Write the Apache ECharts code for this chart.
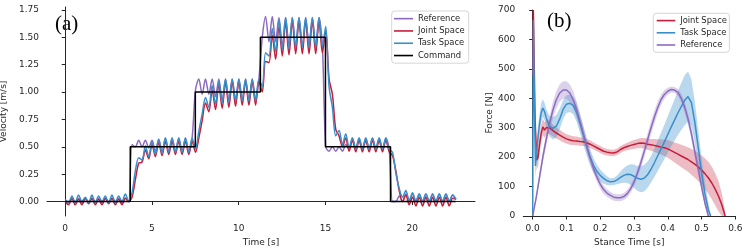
<!DOCTYPE html>
<html><head><meta charset="utf-8">
<script src="https://cdn.jsdelivr.net/npm/echarts@6/dist/echarts.min.js"></script>
<style>html,body{margin:0;padding:0;background:#fff}#c{width:748px;height:251px}</style>
</head><body><div id="c"></div>
<script>
// ---------- (a) velocity tracking ----------
const timeS = [0,0.193,0.385,0.578,0.77,0.963,1.155,1.348,1.54,1.733,1.925,2.118,2.31,2.503,2.695,2.888,3.08,3.273,3.465,3.658,
3.85,4.043,4.235,4.428,4.62,4.813,5.005,5.198,5.39,5.583,5.775,5.968,6.16,6.353,6.545,6.738,6.93,7.123,7.315,
7.508,7.7,7.893,8.085,8.278,8.47,8.663,8.855,9.048,9.24,9.433,9.625,9.818,10.01,10.203,10.395,10.588,10.78,10.973,11.165,
11.358,11.55,11.743,11.935,12.128,12.32,12.513,12.705,12.898,13.09,13.283,13.475,13.668,13.86,14.053,14.245,14.438,14.63,14.823,
15.015,15.208,15.4,15.593,15.785,15.978,16.17,16.363,16.555,16.748,16.94,17.133,17.325,17.518,17.71,17.903,18.095,18.288,18.48,18.673,
18.865,19.058,19.25,19.443,19.635,19.828,20.02,20.213,20.405,20.598,20.79,20.983,21.175,21.368,21.56,21.753,21.945,22.138,22.33,22.523];

const referenceVel = [0.0,-0.01,0.03,-0.01,0.03,-0.01,0.03,-0.01,0.03,-0.01,0.03,-0.01,0.03,-0.01,0.03,-0.01,0.03,-0.01,0.03,0.0,
0.52,0.50,0.56,0.50,0.56,0.49,0.56,0.46,0.57,0.45,0.58,0.45,0.58,0.45,0.58,0.45,0.58,0.45,0.58,
1.02,1.12,0.98,1.12,0.98,1.12,0.96,1.12,0.92,1.12,0.92,1.12,0.92,1.12,0.92,1.12,0.92,1.12,0.92,1.12,
1.50,1.69,1.46,1.69,1.46,1.68,1.42,1.68,1.41,1.68,1.41,1.68,1.41,1.68,1.41,1.68,1.41,1.68,1.42,
0.50,0.46,0.50,0.46,0.50,0.46,0.52,0.48,0.58,0.48,0.58,0.48,0.58,0.48,0.58,0.48,0.58,0.48,0.58,0.48,
0.0,0.0,0.05,0.0,0.07,0.0,0.07,0.0,0.07,0.0,0.07,0.0,0.07,0.0,0.07,0.0,0.07,0.0,0.06,0.02];

const jointVel = [0.0,-0.03,0.03,-0.03,0.02,-0.03,0.03,-0.02,0.03,-0.03,0.02,-0.03,0.03,-0.02,0.03,-0.03,0.02,-0.03,0.03,0.0,
0.04,0.20,0.35,0.36,0.47,0.39,0.52,0.41,0.54,0.42,0.55,0.43,0.55,0.43,0.55,0.43,0.55,0.43,0.55,
0.45,0.58,0.74,0.90,0.82,1.02,0.84,1.07,0.85,1.09,0.86,1.10,0.87,1.10,0.88,1.10,0.88,1.10,0.88,1.10,
1.00,1.28,1.27,1.52,1.30,1.60,1.33,1.64,1.34,1.65,1.35,1.65,1.35,1.65,1.35,1.65,1.35,1.65,1.36,
1.56,1.12,0.98,0.66,0.60,0.50,0.58,0.46,0.56,0.455,0.56,0.455,0.56,0.455,0.56,0.455,0.56,0.455,0.56,0.455,
0.42,0.28,0.10,0.0,0.06,-0.03,0.04,-0.04,0.04,-0.04,0.04,-0.04,0.04,-0.04,0.04,-0.04,0.04,-0.04,0.03,0.02];

const taskVel = [0.02,-0.01,0.05,-0.01,0.06,0.0,0.04,-0.01,0.06,-0.01,0.05,0.0,0.05,-0.01,0.06,-0.01,0.05,0.0,0.07,0.0,
0.08,0.28,0.40,0.38,0.51,0.41,0.55,0.43,0.57,0.44,0.58,0.45,0.58,0.45,0.58,0.45,0.58,0.45,0.58,
0.48,0.64,0.80,0.95,0.86,1.06,0.89,1.10,0.90,1.12,0.91,1.12,0.92,1.12,0.92,1.12,0.92,1.12,0.92,1.12,
1.05,1.36,1.33,1.58,1.37,1.66,1.39,1.68,1.40,1.68,1.41,1.68,1.41,1.68,1.41,1.68,1.41,1.68,1.42,
1.60,1.05,0.86,0.60,0.65,0.52,0.62,0.49,0.58,0.48,0.58,0.48,0.58,0.48,0.58,0.48,0.58,0.48,0.58,0.48,
0.45,0.26,0.12,0.04,0.10,0.01,0.08,0.0,0.07,0.0,0.07,0.0,0.07,0.0,0.07,0.0,0.07,0.0,0.06,0.02];

const commandT = [0, 3.75, 7.5, 11.25, 15, 18.75, 22.5];
const commandV = [0, 0.5, 1.0, 1.5, 0.5, 0, 0];

const velTicks = [0, 0.25, 0.5, 0.75, 1.0, 1.25, 1.5, 1.75];
const timeTicks = [0, 5, 10, 15, 20];

// ---------- (b) ground reaction force ----------
const jointT = [0,0.002,0.007,0.012,0.016,0.02,0.025,0.03,0.035,0.04,0.045,0.05,
0.06,0.07,0.08,0.09,0.10,0.11,0.12,0.13,0.14,0.15,0.16,0.17,0.18,0.19,0.20,0.21,0.22,0.23,0.24,0.25,
0.26,0.27,0.28,0.29,0.30,0.31,0.32,0.33,0.34,0.35,0.36,0.37,0.38,0.39,0.40,0.41,0.42,0.43,0.44,0.45,
0.46,0.47,0.48,0.49,0.50,0.51,0.52,0.53,0.54,0.55,0.56,0.57];
const jointMean = [480,700,330,190,200,240,280,303,292,300,306,300,
290,282,275,268,262,258,256,255,253,252,249,244,238,232,226,220,217,215,214,218,
226,232,236,240,243,246,248,247,244,242,240,237,234,232,228,222,216,210,204,198,
192,184,176,167,156,144,130,113,92,68,38,0];
const jointStd = [20,10,40,35,30,30,30,28,26,25,24,22,
20,19,18,17,16,16,15,15,14,14,13,13,12,12,12,12,11,11,11,11,
12,12,13,14,15,16,17,18,19,20,22,24,26,28,30,32,34,36,38,40,
42,44,46,48,50,52,54,55,55,52,40,15];

const taskT = [0,0.002,0.005,0.008,0.012,0.016,0.02,0.025,0.03,0.035,0.04,0.045,0.05,
0.06,0.07,0.08,0.09,0.10,0.11,0.12,0.13,0.14,0.15,0.16,0.17,0.18,0.19,0.20,0.21,0.22,0.23,0.24,0.25,
0.26,0.27,0.28,0.29,0.30,0.31,0.32,0.33,0.34,0.35,0.36,0.37,0.38,0.39,0.40,0.41,0.42,0.43,0.44,0.45,
0.46,0.47,0.48,0.49,0.50,0.51,0.52,0.527];
const taskMean = [0,665,400,170,220,270,310,350,367,355,335,318,305,
298,305,330,362,380,383,376,352,315,275,235,200,172,152,138,128,120,116,117,123,
131,138,142,141,135,128,125,128,140,158,180,204,228,252,277,302,326,350,372,393,
406,385,320,235,148,75,22,0];
const taskStd = [0,10,60,40,40,40,35,32,30,30,30,32,35,
38,38,35,32,30,30,30,32,32,32,30,28,25,22,20,18,15,12,12,15,
20,25,30,35,40,42,44,45,45,45,48,52,55,58,62,66,70,75,80,85,
85,80,70,60,50,40,25,5];

const refT = [0,0.01,0.02,0.03,0.04,0.05,0.06,0.07,0.08,0.09,0.10,
0.11,0.12,0.13,0.14,0.15,0.16,0.17,0.18,0.19,0.20,0.21,0.22,0.23,0.24,0.25,0.26,0.27,0.28,0.29,0.30,
0.31,0.32,0.33,0.34,0.35,0.36,0.37,0.38,0.39,0.40,0.41,0.42,0.43,0.44,0.45,0.46,0.47,0.48,0.49,0.50,0.51,0.52];
const refMean = [0,60,130,200,260,315,360,395,418,428,428,
418,395,362,322,280,238,198,162,132,108,90,78,70,64,62,62,66,76,92,115,
145,180,218,258,298,335,368,395,413,424,430,428,420,400,370,330,280,220,160,100,45,0];
const refStd = [5,10,15,20,22,25,28,30,30,30,30,
30,30,28,26,24,22,20,18,16,15,14,13,12,12,12,12,12,13,14,15,
16,18,20,22,22,22,20,18,15,12,10,10,12,15,18,20,20,20,18,15,12,8];

const stanceTicks = [0, 0.1, 0.2, 0.3, 0.4, 0.5, 0.6];
const forceTicks = [0, 100, 200, 300, 400, 500, 600, 700];

// ---------- styling ----------
const C = { ref: '#8c6bbf', joint: '#c41e3a', task: '#3a8fcb', cmd: '#000000' };
const BAND = { ref: 'rgba(140,107,191,0.30)', joint: 'rgba(196,30,58,0.30)', task: 'rgba(58,143,203,0.35)' };
const INK = '#262626';
const FONT = 'DejaVu Sans';

const zip = (a, b) => a.map((x, i) => [x, b[i]]);

function lineSeries(name, xs, ys, color, idx, extra) {
  return Object.assign({
    type: 'line', name, xAxisIndex: idx, yAxisIndex: idx,
    data: zip(xs, ys), showSymbol: false, symbol: 'none',
    lineStyle: { color, width: 1.5 }, itemStyle: { color },
    animation: false
  }, extra || {});
}

function bandSeries(key, T, M, S, fill) {
  return {
    type: 'custom', name: 'band-' + key, xAxisIndex: 1, yAxisIndex: 1, silent: true, clip: true,
    data: [[T[0], M[0]]], animation: false,
    renderItem: function (params, api) {
      const pts = [];
      for (let i = 0; i < T.length; i++) pts.push(api.coord([T[i], M[i] + S[i]]));
      for (let i = T.length - 1; i >= 0; i--) pts.push(api.coord([T[i], Math.max(0, M[i] - S[i])]));
      const cs = params.coordSys;
      return {
        type: 'group',
        clipPath: { type: 'rect', shape: { x: cs.x, y: cs.y, width: cs.width, height: cs.height } },
        children: [{ type: 'polygon', shape: { points: pts }, style: { fill: fill, stroke: null } }]
      };
    }
  };
}

function axisCommon() {
  return {
    axisLine: { show: true, lineStyle: { color: INK, width: 1 } },
    axisTick: { show: true, inside: false, length: 3.5, lineStyle: { color: INK, width: 1 } },
    splitLine: { show: false },
    axisLabel: { color: INK, fontSize: 9, fontFamily: FONT },
    nameTextStyle: { color: INK, fontSize: 9, fontFamily: FONT }
  };
}

function valueAxis(base, ticks, digits, opts) {
  const a = axisCommon();
  a.type = 'value';
  a.axisTick.customValues = ticks;
  a.axisLabel.customValues = ticks;
  a.axisLabel.formatter = v => Number(v).toFixed(digits);
  return Object.assign(a, base, opts || {});
}

const chart = echarts.init(document.getElementById('c'), null, { renderer: 'canvas' });

const option = {
  animation: false,
  backgroundColor: '#ffffff',
  textStyle: { fontFamily: FONT },
  grid: [
    { left: 47, top: 7, width: 428, height: 209, containLabel: false, outerBoundsMode: 'none' },
    { left: 523.3, top: 10, width: 212, height: 206, containLabel: false, outerBoundsMode: 'none' }
  ],
  xAxis: [
    valueAxis({ gridIndex: 0, min: -1.05, max: 23.62, name: 'Time [s]', nameLocation: 'middle', nameGap: 18 }, timeTicks, 0),
    valueAxis({ gridIndex: 1, min: -0.0278, max: 0.6, name: 'Stance Time [s]', nameLocation: 'middle', nameGap: 18 }, stanceTicks, 1)
  ],
  yAxis: [
    valueAxis({ gridIndex: 0, min: -0.132, max: 1.777, name: 'Velocity [m/s]', nameLocation: 'middle', nameGap: 31 }, velTicks, 2),
    valueAxis({ gridIndex: 1, min: 0, max: 700, name: 'Force [N]', nameLocation: 'middle', nameGap: 28 }, forceTicks, 0)
  ],
  legend: [
    {
      data: ['Reference', 'Joint Space', 'Task Space', 'Command'],
      orient: 'vertical', left: 391.7, top: 11,
      icon: 'rect', itemWidth: 19, itemHeight: 1.6, itemGap: 0,
      padding: [1.5, 4, 1.5, 2.3],
      backgroundColor: 'rgba(255,255,255,0.85)', borderColor: '#cccccc', borderWidth: 0.8, borderRadius: 3,
      textStyle: { color: INK, fontSize: 8.4, fontFamily: FONT, lineHeight: 12.3 },
      selectedMode: false
    },
    {
      data: ['Joint Space', 'Task Space', 'Reference'],
      orient: 'vertical', left: 653.3, top: 13.3,
      icon: 'rect', itemWidth: 18.5, itemHeight: 1.6, itemGap: 0,
      padding: [1.2, 2.5, 1.2, 3.4],
      backgroundColor: 'rgba(255,255,255,0.85)', borderColor: '#cccccc', borderWidth: 0.8, borderRadius: 3,
      textStyle: { color: INK, fontSize: 8.4, fontFamily: FONT, lineHeight: 12.2 },
      selectedMode: false
    }
  ],
  graphic: [
    { type: 'text', left: 55, top: 14, style: { text: '(a)', fill: '#000', font: '21px "Liberation Serif"' } },
    { type: 'text', left: 547, top: 11, style: { text: '(b)', fill: '#000', font: '21px "Liberation Serif"' } }
  ],
  series: [
    lineSeries('Reference', timeS, referenceVel, C.ref, 0, { smooth: 0.3 }),
    lineSeries('Joint Space', timeS, jointVel, C.joint, 0, { smooth: 0.3 }),
    lineSeries('Task Space', timeS, taskVel, C.task, 0, { smooth: 0.3 }),
    lineSeries('Command', commandT, commandV, C.cmd, 0, { step: 'end' }),

    bandSeries('joint', jointT, jointMean, jointStd, BAND.joint),
    lineSeries('Joint Space', jointT, jointMean, C.joint, 1),
    bandSeries('task', taskT, taskMean, taskStd, BAND.task),
    lineSeries('Task Space', taskT, taskMean, C.task, 1),
    bandSeries('ref', refT, refMean, refStd, BAND.ref),
    lineSeries('Reference', refT, refMean, C.ref, 1)
  ]
};
chart.setOption(option);
</script>
</body></html>
